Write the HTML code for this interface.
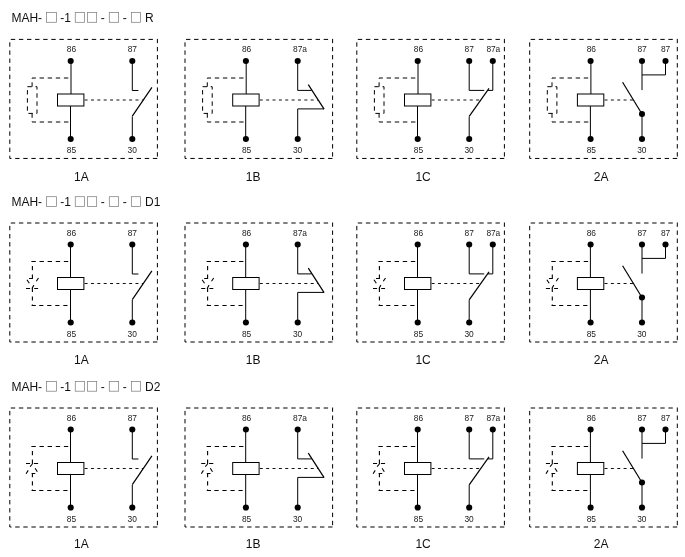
<!DOCTYPE html>
<html><head><meta charset="utf-8"><title>MAH relay wiring diagrams</title>
<style>
html,body{margin:0;padding:0;background:#fff}
svg{display:block;will-change:transform;font-family:"Liberation Sans",sans-serif}
.s,path{fill:none;stroke:#000;stroke-width:1}
.o{stroke:#000;stroke-width:1}
.d{stroke:#000;stroke-width:1}
.d2{stroke:#000;stroke-width:1.1}
.a{stroke:#000;stroke-width:1.2}
.m{stroke:#111;stroke-width:1;stroke-dasharray:3 3.36}
.q{fill:none;stroke:#808080;stroke-width:0.75}
circle{fill:#000}
text{fill:#1a1a1a}
.p{font-size:8.4px;letter-spacing:-0.12px}
.t{font-size:12px;fill:#111}
.n{font-size:12px;fill:#111}
</style></head><body>
<svg width="685" height="557" viewBox="0 0 685 557">
<rect width="685" height="557" fill="#fff"/>
<text class="t" x="11.40" y="21.70">MAH-</text>
<text class="t" x="60.20" y="21.70">-1</text>
<text class="t" x="100.80" y="21.70">-</text>
<text class="t" x="122.80" y="21.70">-</text>
<text class="t" x="145.00" y="21.70">R</text>
<rect class="q" x="46.40" y="12.50" width="10.05" height="9.8"/>
<rect class="q" x="75.26" y="12.50" width="9.3" height="9.8"/>
<rect class="q" x="87.37" y="12.50" width="9.3" height="9.8"/>
<rect class="q" x="109.30" y="12.50" width="9.35" height="9.8"/>
<rect class="q" x="131.35" y="12.50" width="9.25" height="9.8"/>
<path class="o" d="M10.80 39.40h4.4M18.90 39.40h4.4M27.00 39.40h4.4M35.10 39.40h4.4M43.20 39.40h4.4M51.30 39.40h4.4M59.40 39.40h4.4M67.50 39.40h4.4M75.60 39.40h4.4M83.70 39.40h4.4M91.80 39.40h4.4M99.90 39.40h4.4M108.00 39.40h4.4M116.10 39.40h4.4M124.20 39.40h4.4M132.30 39.40h4.4M140.40 39.40h4.4M148.50 39.40h4.4M157.40 38.90V43.20M157.40 46.90V51.30M157.40 55.00V59.40M157.40 63.10V67.50M157.40 71.20V75.60M157.40 79.30V83.70M157.40 87.40V91.80M157.40 95.50V99.90M157.40 103.60V108.00M157.40 111.70V116.10M157.40 119.80V124.20M157.40 127.90V132.30M157.40 136.00V140.40M157.40 144.10V148.50M157.40 152.20V156.60M9.80 42.30v4.4M9.80 50.40v4.4M9.80 58.50v4.4M9.80 66.60v4.4M9.80 74.70v4.4M9.80 82.80v4.4M9.80 90.90v4.4M9.80 99.00v4.4M9.80 107.10v4.4M9.80 115.20v4.4M9.80 123.30v4.4M9.80 131.40v4.4M9.80 139.50v4.4M9.80 147.60v4.4M9.80 155.70V158.45h1.65M15.15 158.45H19.55M23.25 158.45H27.65M31.35 158.45H35.75M39.45 158.45H43.85M47.55 158.45H51.95M55.65 158.45H60.05M63.75 158.45H68.15M71.85 158.45H76.25M79.95 158.45H84.35M88.05 158.45H92.45M96.15 158.45H100.55M104.25 158.45H108.65M112.35 158.45H116.75M120.45 158.45H124.85M128.55 158.45H132.95M136.65 158.45H141.05M144.75 158.45H149.15M152.85 158.45H157.25" />
<circle cx="70.70" cy="61.05" r="3.05"/>
<circle cx="70.70" cy="139.00" r="3.05"/>
<path class="s" d="M71.00 61.00L71.00 94.00"/>
<path class="s" d="M70.50 106.00L70.50 139.00"/>
<rect class="s" x="57.50" y="94.00" width="26.4" height="12"/>
<text class="p" x="66.85" y="52.15">86</text>
<text class="p" x="66.85" y="153.05">85</text>
<path class="d" d="M68.30 78.00H32.10V86.70" stroke-dasharray="4.4 3.7" stroke-dashoffset="0"/>
<path class="d" d="M27.40 86.70H37.00V113.40H27.40Z" stroke-dasharray="4.4 3.7"/>
<path class="d" d="M32.10 113.40V122.00H68.50" stroke-dasharray="4.4 3.7"/>
<circle cx="132.30" cy="61.05" r="3.05"/>
<circle cx="132.30" cy="139.00" r="3.05"/>
<path class="s" d="M132.30 61.00V90.50H138.40" />
<path class="s" d="M132.30 139.00V116.40" />
<path class="a" d="M132.30 116.20L151.90 87.40"/>
<text class="p" x="127.70" y="52.15">87</text>
<text class="p" x="127.60" y="153.05">30</text>
<path class="m" d="M84.60 100.00H143.10" />
<text class="n" x="74.05" y="180.80">1A</text>
<path class="o" d="M186.00 39.40h4.4M194.10 39.40h4.4M202.20 39.40h4.4M210.30 39.40h4.4M218.40 39.40h4.4M226.50 39.40h4.4M234.60 39.40h4.4M242.70 39.40h4.4M250.80 39.40h4.4M258.90 39.40h4.4M267.00 39.40h4.4M275.10 39.40h4.4M283.20 39.40h4.4M291.30 39.40h4.4M299.40 39.40h4.4M307.50 39.40h4.4M315.60 39.40h4.4M323.70 39.40h4.4M332.60 38.90V43.20M332.60 46.90V51.30M332.60 55.00V59.40M332.60 63.10V67.50M332.60 71.20V75.60M332.60 79.30V83.70M332.60 87.40V91.80M332.60 95.50V99.90M332.60 103.60V108.00M332.60 111.70V116.10M332.60 119.80V124.20M332.60 127.90V132.30M332.60 136.00V140.40M332.60 144.10V148.50M332.60 152.20V156.60M185.00 42.30v4.4M185.00 50.40v4.4M185.00 58.50v4.4M185.00 66.60v4.4M185.00 74.70v4.4M185.00 82.80v4.4M185.00 90.90v4.4M185.00 99.00v4.4M185.00 107.10v4.4M185.00 115.20v4.4M185.00 123.30v4.4M185.00 131.40v4.4M185.00 139.50v4.4M185.00 147.60v4.4M185.00 155.70V158.45h1.65M190.35 158.45H194.75M198.45 158.45H202.85M206.55 158.45H210.95M214.65 158.45H219.05M222.75 158.45H227.15M230.85 158.45H235.25M238.95 158.45H243.35M247.05 158.45H251.45M255.15 158.45H259.55M263.25 158.45H267.65M271.35 158.45H275.75M279.45 158.45H283.85M287.55 158.45H291.95M295.65 158.45H300.05M303.75 158.45H308.15M311.85 158.45H316.25M319.95 158.45H324.35M328.05 158.45H332.45" />
<circle cx="245.90" cy="61.05" r="3.05"/>
<circle cx="245.90" cy="139.00" r="3.05"/>
<path class="s" d="M246.20 61.00L246.20 94.00"/>
<path class="s" d="M245.70 106.00L245.70 139.00"/>
<rect class="s" x="232.70" y="94.00" width="26.4" height="12"/>
<text class="p" x="242.05" y="52.15">86</text>
<text class="p" x="242.05" y="153.05">85</text>
<path class="d" d="M243.50 78.00H207.30V86.70" stroke-dasharray="4.4 3.7" stroke-dashoffset="0"/>
<path class="d" d="M202.60 86.70H212.20V113.40H202.60Z" stroke-dasharray="4.4 3.7"/>
<path class="d" d="M207.30 113.40V122.00H243.70" stroke-dasharray="4.4 3.7"/>
<circle cx="297.70" cy="61.05" r="3.05"/>
<circle cx="297.70" cy="139.00" r="3.05"/>
<path class="s" d="M297.70 61.00V90.40H311.60" />
<path class="s" d="M297.70 139.00V108.90H324.00" />
<path class="a" d="M324.10 109.10L308.30 84.60"/>
<text class="p" x="293.10" y="52.15">87a</text>
<text class="p" x="293.00" y="153.05">30</text>
<path class="m" d="M259.80 100.00H318.00" />
<text class="n" x="245.75" y="180.80">1B</text>
<path class="o" d="M357.80 39.40h4.4M365.90 39.40h4.4M374.00 39.40h4.4M382.10 39.40h4.4M390.20 39.40h4.4M398.30 39.40h4.4M406.40 39.40h4.4M414.50 39.40h4.4M422.60 39.40h4.4M430.70 39.40h4.4M438.80 39.40h4.4M446.90 39.40h4.4M455.00 39.40h4.4M463.10 39.40h4.4M471.20 39.40h4.4M479.30 39.40h4.4M487.40 39.40h4.4M495.50 39.40h4.4M504.40 38.90V43.20M504.40 46.90V51.30M504.40 55.00V59.40M504.40 63.10V67.50M504.40 71.20V75.60M504.40 79.30V83.70M504.40 87.40V91.80M504.40 95.50V99.90M504.40 103.60V108.00M504.40 111.70V116.10M504.40 119.80V124.20M504.40 127.90V132.30M504.40 136.00V140.40M504.40 144.10V148.50M504.40 152.20V156.60M356.80 42.30v4.4M356.80 50.40v4.4M356.80 58.50v4.4M356.80 66.60v4.4M356.80 74.70v4.4M356.80 82.80v4.4M356.80 90.90v4.4M356.80 99.00v4.4M356.80 107.10v4.4M356.80 115.20v4.4M356.80 123.30v4.4M356.80 131.40v4.4M356.80 139.50v4.4M356.80 147.60v4.4M356.80 155.70V158.45h1.65M362.15 158.45H366.55M370.25 158.45H374.65M378.35 158.45H382.75M386.45 158.45H390.85M394.55 158.45H398.95M402.65 158.45H407.05M410.75 158.45H415.15M418.85 158.45H423.25M426.95 158.45H431.35M435.05 158.45H439.45M443.15 158.45H447.55M451.25 158.45H455.65M459.35 158.45H463.75M467.45 158.45H471.85M475.55 158.45H479.95M483.65 158.45H488.05M491.75 158.45H496.15M499.85 158.45H504.25" />
<circle cx="417.70" cy="61.05" r="3.05"/>
<circle cx="417.70" cy="139.00" r="3.05"/>
<path class="s" d="M418.00 61.00L418.00 94.00"/>
<path class="s" d="M417.50 106.00L417.50 139.00"/>
<rect class="s" x="404.50" y="94.00" width="26.4" height="12"/>
<text class="p" x="413.85" y="52.15">86</text>
<text class="p" x="413.85" y="153.05">85</text>
<path class="d" d="M415.30 78.00H379.10V86.70" stroke-dasharray="4.4 3.7" stroke-dashoffset="0"/>
<path class="d" d="M374.40 86.70H384.00V113.40H374.40Z" stroke-dasharray="4.4 3.7"/>
<path class="d" d="M379.10 113.40V122.00H415.50" stroke-dasharray="4.4 3.7"/>
<circle cx="469.20" cy="61.05" r="3.05"/>
<circle cx="492.80" cy="61.05" r="3.05"/>
<circle cx="469.20" cy="139.00" r="3.05"/>
<path class="s" d="M469.20 61.00V90.40H484.20" />
<path class="s" d="M492.80 61.00V90.40H487.80" />
<path class="s" d="M469.20 139.00V116.60" />
<path class="a" d="M469.20 116.40L489.00 88.40"/>
<text class="p" x="464.60" y="52.15">87</text>
<text class="p" x="486.50" y="52.15">87a</text>
<text class="p" x="464.50" y="153.05">30</text>
<path class="m" d="M431.60 100.00H479.80" />
<text class="n" x="415.40" y="180.80">1C</text>
<path class="o" d="M530.70 39.40h4.4M538.80 39.40h4.4M546.90 39.40h4.4M555.00 39.40h4.4M563.10 39.40h4.4M571.20 39.40h4.4M579.30 39.40h4.4M587.40 39.40h4.4M595.50 39.40h4.4M603.60 39.40h4.4M611.70 39.40h4.4M619.80 39.40h4.4M627.90 39.40h4.4M636.00 39.40h4.4M644.10 39.40h4.4M652.20 39.40h4.4M660.30 39.40h4.4M668.40 39.40h4.4M677.30 38.90V43.20M677.30 46.90V51.30M677.30 55.00V59.40M677.30 63.10V67.50M677.30 71.20V75.60M677.30 79.30V83.70M677.30 87.40V91.80M677.30 95.50V99.90M677.30 103.60V108.00M677.30 111.70V116.10M677.30 119.80V124.20M677.30 127.90V132.30M677.30 136.00V140.40M677.30 144.10V148.50M677.30 152.20V156.60M529.70 42.30v4.4M529.70 50.40v4.4M529.70 58.50v4.4M529.70 66.60v4.4M529.70 74.70v4.4M529.70 82.80v4.4M529.70 90.90v4.4M529.70 99.00v4.4M529.70 107.10v4.4M529.70 115.20v4.4M529.70 123.30v4.4M529.70 131.40v4.4M529.70 139.50v4.4M529.70 147.60v4.4M529.70 155.70V158.45h1.65M535.05 158.45H539.45M543.15 158.45H547.55M551.25 158.45H555.65M559.35 158.45H563.75M567.45 158.45H571.85M575.55 158.45H579.95M583.65 158.45H588.05M591.75 158.45H596.15M599.85 158.45H604.25M607.95 158.45H612.35M616.05 158.45H620.45M624.15 158.45H628.55M632.25 158.45H636.65M640.35 158.45H644.75M648.45 158.45H652.85M656.55 158.45H660.95M664.65 158.45H669.05M672.75 158.45H677.15" />
<circle cx="590.60" cy="61.05" r="3.05"/>
<circle cx="590.60" cy="139.00" r="3.05"/>
<path class="s" d="M590.90 61.00L590.90 94.00"/>
<path class="s" d="M590.40 106.00L590.40 139.00"/>
<rect class="s" x="577.40" y="94.00" width="26.4" height="12"/>
<text class="p" x="586.75" y="52.15">86</text>
<text class="p" x="586.75" y="153.05">85</text>
<path class="d" d="M588.20 78.00H552.00V86.70" stroke-dasharray="4.4 3.7" stroke-dashoffset="0"/>
<path class="d" d="M547.30 86.70H556.90V113.40H547.30Z" stroke-dasharray="4.4 3.7"/>
<path class="d" d="M552.00 113.40V122.00H588.40" stroke-dasharray="4.4 3.7"/>
<circle cx="642.00" cy="61.05" r="3.05"/>
<circle cx="665.50" cy="61.05" r="3.05"/>
<circle cx="642.00" cy="139.00" r="3.05"/>
<circle cx="642.00" cy="114.00" r="3.05"/>
<path class="s" d="M642.00 61.00V90.10M642.00 74.90H665.50V61.00" />
<path class="s" d="M642.00 139.00V114.00" />
<path class="a" d="M642.00 114.00L622.60 82.20"/>
<text class="p" x="637.40" y="52.15">87</text>
<text class="p" x="660.90" y="52.15">87</text>
<text class="p" x="637.30" y="153.05">30</text>
<path class="m" d="M604.50 100.00H633.20" />
<text class="n" x="593.80" y="180.80">2A</text>
<text class="t" x="11.40" y="205.90">MAH-</text>
<text class="t" x="60.20" y="205.90">-1</text>
<text class="t" x="100.80" y="205.90">-</text>
<text class="t" x="122.80" y="205.90">-</text>
<text class="t" x="145.00" y="205.90">D1</text>
<rect class="q" x="46.40" y="196.70" width="10.05" height="9.8"/>
<rect class="q" x="75.26" y="196.70" width="9.3" height="9.8"/>
<rect class="q" x="87.37" y="196.70" width="9.3" height="9.8"/>
<rect class="q" x="109.30" y="196.70" width="9.35" height="9.8"/>
<rect class="q" x="131.35" y="196.70" width="9.25" height="9.8"/>
<path class="o" d="M10.80 223.00h4.4M18.90 223.00h4.4M27.00 223.00h4.4M35.10 223.00h4.4M43.20 223.00h4.4M51.30 223.00h4.4M59.40 223.00h4.4M67.50 223.00h4.4M75.60 223.00h4.4M83.70 223.00h4.4M91.80 223.00h4.4M99.90 223.00h4.4M108.00 223.00h4.4M116.10 223.00h4.4M124.20 223.00h4.4M132.30 223.00h4.4M140.40 223.00h4.4M148.50 223.00h4.4M157.40 222.50V226.80M157.40 230.50V234.90M157.40 238.60V243.00M157.40 246.70V251.10M157.40 254.80V259.20M157.40 262.90V267.30M157.40 271.00V275.40M157.40 279.10V283.50M157.40 287.20V291.60M157.40 295.30V299.70M157.40 303.40V307.80M157.40 311.50V315.90M157.40 319.60V324.00M157.40 327.70V332.10M157.40 335.80V340.20M9.80 225.90v4.4M9.80 234.00v4.4M9.80 242.10v4.4M9.80 250.20v4.4M9.80 258.30v4.4M9.80 266.40v4.4M9.80 274.50v4.4M9.80 282.60v4.4M9.80 290.70v4.4M9.80 298.80v4.4M9.80 306.90v4.4M9.80 315.00v4.4M9.80 323.10v4.4M9.80 331.20v4.4M9.80 339.30V342.00h1.70M15.20 342.00H19.60M23.30 342.00H27.70M31.40 342.00H35.80M39.50 342.00H43.90M47.60 342.00H52.00M55.70 342.00H60.10M63.80 342.00H68.20M71.90 342.00H76.30M80.00 342.00H84.40M88.10 342.00H92.50M96.20 342.00H100.60M104.30 342.00H108.70M112.40 342.00H116.80M120.50 342.00H124.90M128.60 342.00H133.00M136.70 342.00H141.10M144.80 342.00H149.20M152.90 342.00H157.30" />
<circle cx="70.70" cy="244.55" r="3.05"/>
<circle cx="70.70" cy="322.50" r="3.05"/>
<path class="s" d="M70.50 244.50L70.50 277.50"/>
<path class="s" d="M70.50 289.50L70.50 322.50"/>
<rect class="s" x="57.50" y="277.50" width="26.4" height="12"/>
<text class="p" x="66.85" y="235.95">86</text>
<text class="p" x="66.85" y="336.85">85</text>
<path class="d2" d="M31.40 261.50L35.80 261.50M39.50 261.50L43.90 261.50M47.60 261.50L52.00 261.50M55.75 261.50L60.15 261.50M63.85 261.50L68.25 261.50M32.40 261.00L32.40 261.70M32.40 266.00L32.40 270.20M32.40 274.40L32.40 278.90M29.00 278.50L32.60 278.50M26.95 279.70L29.30 283.20M38.50 278.00L36.30 281.30M33.90 285.10L31.90 288.50M26.00 288.50L30.10 288.50M34.20 288.50L38.10 288.50M32.40 287.30L32.40 292.00M32.40 296.40L32.40 300.50M32.40 304.60L32.40 306.00M31.60 305.50L35.80 305.50M39.20 305.50L43.40 305.50M47.20 305.50L51.40 305.50M55.25 305.50L59.45 305.50M63.30 305.50L67.50 305.50" />
<circle cx="132.30" cy="244.55" r="3.05"/>
<circle cx="132.30" cy="322.50" r="3.05"/>
<path class="s" d="M132.30 244.50V274.00H138.40" />
<path class="s" d="M132.30 322.50V299.90" />
<path class="a" d="M132.30 299.70L151.90 270.90"/>
<text class="p" x="127.70" y="235.95">87</text>
<text class="p" x="127.60" y="336.85">30</text>
<path class="m" d="M84.60 283.50H143.10" />
<text class="n" x="74.05" y="364.20">1A</text>
<path class="o" d="M186.00 223.00h4.4M194.10 223.00h4.4M202.20 223.00h4.4M210.30 223.00h4.4M218.40 223.00h4.4M226.50 223.00h4.4M234.60 223.00h4.4M242.70 223.00h4.4M250.80 223.00h4.4M258.90 223.00h4.4M267.00 223.00h4.4M275.10 223.00h4.4M283.20 223.00h4.4M291.30 223.00h4.4M299.40 223.00h4.4M307.50 223.00h4.4M315.60 223.00h4.4M323.70 223.00h4.4M332.60 222.50V226.80M332.60 230.50V234.90M332.60 238.60V243.00M332.60 246.70V251.10M332.60 254.80V259.20M332.60 262.90V267.30M332.60 271.00V275.40M332.60 279.10V283.50M332.60 287.20V291.60M332.60 295.30V299.70M332.60 303.40V307.80M332.60 311.50V315.90M332.60 319.60V324.00M332.60 327.70V332.10M332.60 335.80V340.20M185.00 225.90v4.4M185.00 234.00v4.4M185.00 242.10v4.4M185.00 250.20v4.4M185.00 258.30v4.4M185.00 266.40v4.4M185.00 274.50v4.4M185.00 282.60v4.4M185.00 290.70v4.4M185.00 298.80v4.4M185.00 306.90v4.4M185.00 315.00v4.4M185.00 323.10v4.4M185.00 331.20v4.4M185.00 339.30V342.00h1.70M190.40 342.00H194.80M198.50 342.00H202.90M206.60 342.00H211.00M214.70 342.00H219.10M222.80 342.00H227.20M230.90 342.00H235.30M239.00 342.00H243.40M247.10 342.00H251.50M255.20 342.00H259.60M263.30 342.00H267.70M271.40 342.00H275.80M279.50 342.00H283.90M287.60 342.00H292.00M295.70 342.00H300.10M303.80 342.00H308.20M311.90 342.00H316.30M320.00 342.00H324.40M328.10 342.00H332.50" />
<circle cx="245.90" cy="244.55" r="3.05"/>
<circle cx="245.90" cy="322.50" r="3.05"/>
<path class="s" d="M245.70 244.50L245.70 277.50"/>
<path class="s" d="M245.70 289.50L245.70 322.50"/>
<rect class="s" x="232.70" y="277.50" width="26.4" height="12"/>
<text class="p" x="242.05" y="235.95">86</text>
<text class="p" x="242.05" y="336.85">85</text>
<path class="d2" d="M206.60 261.50L211.00 261.50M214.70 261.50L219.10 261.50M222.80 261.50L227.20 261.50M230.95 261.50L235.35 261.50M239.05 261.50L243.45 261.50M207.60 261.00L207.60 261.70M207.60 266.00L207.60 270.20M207.60 274.40L207.60 278.90M204.20 278.50L207.80 278.50M202.15 279.70L204.50 283.20M213.70 278.00L211.50 281.30M209.10 285.10L207.10 288.50M201.20 288.50L205.30 288.50M209.40 288.50L213.30 288.50M207.60 287.30L207.60 292.00M207.60 296.40L207.60 300.50M207.60 304.60L207.60 306.00M206.80 305.50L211.00 305.50M214.40 305.50L218.60 305.50M222.40 305.50L226.60 305.50M230.45 305.50L234.65 305.50M238.50 305.50L242.70 305.50" />
<circle cx="297.70" cy="244.55" r="3.05"/>
<circle cx="297.70" cy="322.50" r="3.05"/>
<path class="s" d="M297.70 244.50V273.90H311.60" />
<path class="s" d="M297.70 322.50V292.40H324.00" />
<path class="a" d="M324.10 292.60L308.30 268.10"/>
<text class="p" x="293.10" y="235.95">87a</text>
<text class="p" x="293.00" y="336.85">30</text>
<path class="m" d="M259.80 283.50H318.00" />
<text class="n" x="245.75" y="364.20">1B</text>
<path class="o" d="M357.80 223.00h4.4M365.90 223.00h4.4M374.00 223.00h4.4M382.10 223.00h4.4M390.20 223.00h4.4M398.30 223.00h4.4M406.40 223.00h4.4M414.50 223.00h4.4M422.60 223.00h4.4M430.70 223.00h4.4M438.80 223.00h4.4M446.90 223.00h4.4M455.00 223.00h4.4M463.10 223.00h4.4M471.20 223.00h4.4M479.30 223.00h4.4M487.40 223.00h4.4M495.50 223.00h4.4M504.40 222.50V226.80M504.40 230.50V234.90M504.40 238.60V243.00M504.40 246.70V251.10M504.40 254.80V259.20M504.40 262.90V267.30M504.40 271.00V275.40M504.40 279.10V283.50M504.40 287.20V291.60M504.40 295.30V299.70M504.40 303.40V307.80M504.40 311.50V315.90M504.40 319.60V324.00M504.40 327.70V332.10M504.40 335.80V340.20M356.80 225.90v4.4M356.80 234.00v4.4M356.80 242.10v4.4M356.80 250.20v4.4M356.80 258.30v4.4M356.80 266.40v4.4M356.80 274.50v4.4M356.80 282.60v4.4M356.80 290.70v4.4M356.80 298.80v4.4M356.80 306.90v4.4M356.80 315.00v4.4M356.80 323.10v4.4M356.80 331.20v4.4M356.80 339.30V342.00h1.70M362.20 342.00H366.60M370.30 342.00H374.70M378.40 342.00H382.80M386.50 342.00H390.90M394.60 342.00H399.00M402.70 342.00H407.10M410.80 342.00H415.20M418.90 342.00H423.30M427.00 342.00H431.40M435.10 342.00H439.50M443.20 342.00H447.60M451.30 342.00H455.70M459.40 342.00H463.80M467.50 342.00H471.90M475.60 342.00H480.00M483.70 342.00H488.10M491.80 342.00H496.20M499.90 342.00H504.30" />
<circle cx="417.70" cy="244.55" r="3.05"/>
<circle cx="417.70" cy="322.50" r="3.05"/>
<path class="s" d="M417.50 244.50L417.50 277.50"/>
<path class="s" d="M417.50 289.50L417.50 322.50"/>
<rect class="s" x="404.50" y="277.50" width="26.4" height="12"/>
<text class="p" x="413.85" y="235.95">86</text>
<text class="p" x="413.85" y="336.85">85</text>
<path class="d2" d="M378.40 261.50L382.80 261.50M386.50 261.50L390.90 261.50M394.60 261.50L399.00 261.50M402.75 261.50L407.15 261.50M410.85 261.50L415.25 261.50M379.40 261.00L379.40 261.70M379.40 266.00L379.40 270.20M379.40 274.40L379.40 278.90M376.00 278.50L379.60 278.50M373.95 279.70L376.30 283.20M385.50 278.00L383.30 281.30M380.90 285.10L378.90 288.50M373.00 288.50L377.10 288.50M381.20 288.50L385.10 288.50M379.40 287.30L379.40 292.00M379.40 296.40L379.40 300.50M379.40 304.60L379.40 306.00M378.60 305.50L382.80 305.50M386.20 305.50L390.40 305.50M394.20 305.50L398.40 305.50M402.25 305.50L406.45 305.50M410.30 305.50L414.50 305.50" />
<circle cx="469.20" cy="244.55" r="3.05"/>
<circle cx="492.80" cy="244.55" r="3.05"/>
<circle cx="469.20" cy="322.50" r="3.05"/>
<path class="s" d="M469.20 244.50V273.90H484.20" />
<path class="s" d="M492.80 244.50V273.90H487.80" />
<path class="s" d="M469.20 322.50V300.10" />
<path class="a" d="M469.20 299.90L489.00 271.90"/>
<text class="p" x="464.60" y="235.95">87</text>
<text class="p" x="486.50" y="235.95">87a</text>
<text class="p" x="464.50" y="336.85">30</text>
<path class="m" d="M431.60 283.50H479.80" />
<text class="n" x="415.40" y="364.20">1C</text>
<path class="o" d="M530.70 223.00h4.4M538.80 223.00h4.4M546.90 223.00h4.4M555.00 223.00h4.4M563.10 223.00h4.4M571.20 223.00h4.4M579.30 223.00h4.4M587.40 223.00h4.4M595.50 223.00h4.4M603.60 223.00h4.4M611.70 223.00h4.4M619.80 223.00h4.4M627.90 223.00h4.4M636.00 223.00h4.4M644.10 223.00h4.4M652.20 223.00h4.4M660.30 223.00h4.4M668.40 223.00h4.4M677.30 222.50V226.80M677.30 230.50V234.90M677.30 238.60V243.00M677.30 246.70V251.10M677.30 254.80V259.20M677.30 262.90V267.30M677.30 271.00V275.40M677.30 279.10V283.50M677.30 287.20V291.60M677.30 295.30V299.70M677.30 303.40V307.80M677.30 311.50V315.90M677.30 319.60V324.00M677.30 327.70V332.10M677.30 335.80V340.20M529.70 225.90v4.4M529.70 234.00v4.4M529.70 242.10v4.4M529.70 250.20v4.4M529.70 258.30v4.4M529.70 266.40v4.4M529.70 274.50v4.4M529.70 282.60v4.4M529.70 290.70v4.4M529.70 298.80v4.4M529.70 306.90v4.4M529.70 315.00v4.4M529.70 323.10v4.4M529.70 331.20v4.4M529.70 339.30V342.00h1.70M535.10 342.00H539.50M543.20 342.00H547.60M551.30 342.00H555.70M559.40 342.00H563.80M567.50 342.00H571.90M575.60 342.00H580.00M583.70 342.00H588.10M591.80 342.00H596.20M599.90 342.00H604.30M608.00 342.00H612.40M616.10 342.00H620.50M624.20 342.00H628.60M632.30 342.00H636.70M640.40 342.00H644.80M648.50 342.00H652.90M656.60 342.00H661.00M664.70 342.00H669.10M672.80 342.00H677.20" />
<circle cx="590.60" cy="244.55" r="3.05"/>
<circle cx="590.60" cy="322.50" r="3.05"/>
<path class="s" d="M590.40 244.50L590.40 277.50"/>
<path class="s" d="M590.40 289.50L590.40 322.50"/>
<rect class="s" x="577.40" y="277.50" width="26.4" height="12"/>
<text class="p" x="586.75" y="235.95">86</text>
<text class="p" x="586.75" y="336.85">85</text>
<path class="d2" d="M551.30 261.50L555.70 261.50M559.40 261.50L563.80 261.50M567.50 261.50L571.90 261.50M575.65 261.50L580.05 261.50M583.75 261.50L588.15 261.50M552.30 261.00L552.30 261.70M552.30 266.00L552.30 270.20M552.30 274.40L552.30 278.90M548.90 278.50L552.50 278.50M546.85 279.70L549.20 283.20M558.40 278.00L556.20 281.30M553.80 285.10L551.80 288.50M545.90 288.50L550.00 288.50M554.10 288.50L558.00 288.50M552.30 287.30L552.30 292.00M552.30 296.40L552.30 300.50M552.30 304.60L552.30 306.00M551.50 305.50L555.70 305.50M559.10 305.50L563.30 305.50M567.10 305.50L571.30 305.50M575.15 305.50L579.35 305.50M583.20 305.50L587.40 305.50" />
<circle cx="642.00" cy="244.55" r="3.05"/>
<circle cx="665.50" cy="244.55" r="3.05"/>
<circle cx="642.00" cy="322.50" r="3.05"/>
<circle cx="642.00" cy="297.50" r="3.05"/>
<path class="s" d="M642.00 244.50V273.60M642.00 258.40H665.50V244.50" />
<path class="s" d="M642.00 322.50V297.50" />
<path class="a" d="M642.00 297.50L622.60 265.70"/>
<text class="p" x="637.40" y="235.95">87</text>
<text class="p" x="660.90" y="235.95">87</text>
<text class="p" x="637.30" y="336.85">30</text>
<path class="m" d="M604.50 283.50H633.20" />
<text class="n" x="593.80" y="364.20">2A</text>
<text class="t" x="11.40" y="390.60">MAH-</text>
<text class="t" x="60.20" y="390.60">-1</text>
<text class="t" x="100.80" y="390.60">-</text>
<text class="t" x="122.80" y="390.60">-</text>
<text class="t" x="145.00" y="390.60">D2</text>
<rect class="q" x="46.40" y="381.40" width="10.05" height="9.8"/>
<rect class="q" x="75.26" y="381.40" width="9.3" height="9.8"/>
<rect class="q" x="87.37" y="381.40" width="9.3" height="9.8"/>
<rect class="q" x="109.30" y="381.40" width="9.35" height="9.8"/>
<rect class="q" x="131.35" y="381.40" width="9.25" height="9.8"/>
<path class="o" d="M10.80 408.00h4.4M18.90 408.00h4.4M27.00 408.00h4.4M35.10 408.00h4.4M43.20 408.00h4.4M51.30 408.00h4.4M59.40 408.00h4.4M67.50 408.00h4.4M75.60 408.00h4.4M83.70 408.00h4.4M91.80 408.00h4.4M99.90 408.00h4.4M108.00 408.00h4.4M116.10 408.00h4.4M124.20 408.00h4.4M132.30 408.00h4.4M140.40 408.00h4.4M148.50 408.00h4.4M157.40 407.50V411.80M157.40 415.50V419.90M157.40 423.60V428.00M157.40 431.70V436.10M157.40 439.80V444.20M157.40 447.90V452.30M157.40 456.00V460.40M157.40 464.10V468.50M157.40 472.20V476.60M157.40 480.30V484.70M157.40 488.40V492.80M157.40 496.50V500.90M157.40 504.60V509.00M157.40 512.70V517.10M157.40 520.80V525.20M9.80 410.90v4.4M9.80 419.00v4.4M9.80 427.10v4.4M9.80 435.20v4.4M9.80 443.30v4.4M9.80 451.40v4.4M9.80 459.50v4.4M9.80 467.60v4.4M9.80 475.70v4.4M9.80 483.80v4.4M9.80 491.90v4.4M9.80 500.00v4.4M9.80 508.10v4.4M9.80 516.20v4.4M9.80 524.30V527.00h1.70M15.20 527.00H19.60M23.30 527.00H27.70M31.40 527.00H35.80M39.50 527.00H43.90M47.60 527.00H52.00M55.70 527.00H60.10M63.80 527.00H68.20M71.90 527.00H76.30M80.00 527.00H84.40M88.10 527.00H92.50M96.20 527.00H100.60M104.30 527.00H108.70M112.40 527.00H116.80M120.50 527.00H124.90M128.60 527.00H133.00M136.70 527.00H141.10M144.80 527.00H149.20M152.90 527.00H157.30" />
<circle cx="70.70" cy="429.55" r="3.05"/>
<circle cx="70.70" cy="507.50" r="3.05"/>
<path class="s" d="M70.50 429.50L70.50 462.50"/>
<path class="s" d="M70.50 474.50L70.50 507.50"/>
<rect class="s" x="57.50" y="462.50" width="26.4" height="12"/>
<text class="p" x="66.85" y="420.95">86</text>
<text class="p" x="66.85" y="521.85">85</text>
<path class="d2" d="M31.40 446.50L35.80 446.50M39.50 446.50L43.90 446.50M47.60 446.50L52.00 446.50M55.75 446.50L60.15 446.50M63.85 446.50L68.25 446.50M32.40 446.00L32.40 446.70M32.40 451.00L32.40 455.30M32.40 459.40L32.40 463.90M26.00 463.50L30.10 463.50M33.90 463.50L38.10 463.50M32.40 464.00L30.10 466.70M28.20 470.40L26.10 473.70M35.10 468.20L37.30 471.70M31.60 473.50L35.25 473.50M32.40 473.50L32.40 477.20M32.40 481.30L32.40 485.40M32.40 489.40L32.40 491.00M31.60 490.50L35.80 490.50M39.20 490.50L43.40 490.50M47.20 490.50L51.40 490.50M55.25 490.50L59.45 490.50M63.30 490.50L67.50 490.50" />
<circle cx="132.30" cy="429.55" r="3.05"/>
<circle cx="132.30" cy="507.50" r="3.05"/>
<path class="s" d="M132.30 429.50V459.00H138.40" />
<path class="s" d="M132.30 507.50V484.90" />
<path class="a" d="M132.30 484.70L151.90 455.90"/>
<text class="p" x="127.70" y="420.95">87</text>
<text class="p" x="127.60" y="521.85">30</text>
<path class="m" d="M84.60 468.50H143.10" />
<text class="n" x="74.05" y="548.20">1A</text>
<path class="o" d="M186.00 408.00h4.4M194.10 408.00h4.4M202.20 408.00h4.4M210.30 408.00h4.4M218.40 408.00h4.4M226.50 408.00h4.4M234.60 408.00h4.4M242.70 408.00h4.4M250.80 408.00h4.4M258.90 408.00h4.4M267.00 408.00h4.4M275.10 408.00h4.4M283.20 408.00h4.4M291.30 408.00h4.4M299.40 408.00h4.4M307.50 408.00h4.4M315.60 408.00h4.4M323.70 408.00h4.4M332.60 407.50V411.80M332.60 415.50V419.90M332.60 423.60V428.00M332.60 431.70V436.10M332.60 439.80V444.20M332.60 447.90V452.30M332.60 456.00V460.40M332.60 464.10V468.50M332.60 472.20V476.60M332.60 480.30V484.70M332.60 488.40V492.80M332.60 496.50V500.90M332.60 504.60V509.00M332.60 512.70V517.10M332.60 520.80V525.20M185.00 410.90v4.4M185.00 419.00v4.4M185.00 427.10v4.4M185.00 435.20v4.4M185.00 443.30v4.4M185.00 451.40v4.4M185.00 459.50v4.4M185.00 467.60v4.4M185.00 475.70v4.4M185.00 483.80v4.4M185.00 491.90v4.4M185.00 500.00v4.4M185.00 508.10v4.4M185.00 516.20v4.4M185.00 524.30V527.00h1.70M190.40 527.00H194.80M198.50 527.00H202.90M206.60 527.00H211.00M214.70 527.00H219.10M222.80 527.00H227.20M230.90 527.00H235.30M239.00 527.00H243.40M247.10 527.00H251.50M255.20 527.00H259.60M263.30 527.00H267.70M271.40 527.00H275.80M279.50 527.00H283.90M287.60 527.00H292.00M295.70 527.00H300.10M303.80 527.00H308.20M311.90 527.00H316.30M320.00 527.00H324.40M328.10 527.00H332.50" />
<circle cx="245.90" cy="429.55" r="3.05"/>
<circle cx="245.90" cy="507.50" r="3.05"/>
<path class="s" d="M245.70 429.50L245.70 462.50"/>
<path class="s" d="M245.70 474.50L245.70 507.50"/>
<rect class="s" x="232.70" y="462.50" width="26.4" height="12"/>
<text class="p" x="242.05" y="420.95">86</text>
<text class="p" x="242.05" y="521.85">85</text>
<path class="d2" d="M206.60 446.50L211.00 446.50M214.70 446.50L219.10 446.50M222.80 446.50L227.20 446.50M230.95 446.50L235.35 446.50M239.05 446.50L243.45 446.50M207.60 446.00L207.60 446.70M207.60 451.00L207.60 455.30M207.60 459.40L207.60 463.90M201.20 463.50L205.30 463.50M209.10 463.50L213.30 463.50M207.60 464.00L205.30 466.70M203.40 470.40L201.30 473.70M210.30 468.20L212.50 471.70M206.80 473.50L210.45 473.50M207.60 473.50L207.60 477.20M207.60 481.30L207.60 485.40M207.60 489.40L207.60 491.00M206.80 490.50L211.00 490.50M214.40 490.50L218.60 490.50M222.40 490.50L226.60 490.50M230.45 490.50L234.65 490.50M238.50 490.50L242.70 490.50" />
<circle cx="297.70" cy="429.55" r="3.05"/>
<circle cx="297.70" cy="507.50" r="3.05"/>
<path class="s" d="M297.70 429.50V458.90H311.60" />
<path class="s" d="M297.70 507.50V477.40H324.00" />
<path class="a" d="M324.10 477.60L308.30 453.10"/>
<text class="p" x="293.10" y="420.95">87a</text>
<text class="p" x="293.00" y="521.85">30</text>
<path class="m" d="M259.80 468.50H318.00" />
<text class="n" x="245.75" y="548.20">1B</text>
<path class="o" d="M357.80 408.00h4.4M365.90 408.00h4.4M374.00 408.00h4.4M382.10 408.00h4.4M390.20 408.00h4.4M398.30 408.00h4.4M406.40 408.00h4.4M414.50 408.00h4.4M422.60 408.00h4.4M430.70 408.00h4.4M438.80 408.00h4.4M446.90 408.00h4.4M455.00 408.00h4.4M463.10 408.00h4.4M471.20 408.00h4.4M479.30 408.00h4.4M487.40 408.00h4.4M495.50 408.00h4.4M504.40 407.50V411.80M504.40 415.50V419.90M504.40 423.60V428.00M504.40 431.70V436.10M504.40 439.80V444.20M504.40 447.90V452.30M504.40 456.00V460.40M504.40 464.10V468.50M504.40 472.20V476.60M504.40 480.30V484.70M504.40 488.40V492.80M504.40 496.50V500.90M504.40 504.60V509.00M504.40 512.70V517.10M504.40 520.80V525.20M356.80 410.90v4.4M356.80 419.00v4.4M356.80 427.10v4.4M356.80 435.20v4.4M356.80 443.30v4.4M356.80 451.40v4.4M356.80 459.50v4.4M356.80 467.60v4.4M356.80 475.70v4.4M356.80 483.80v4.4M356.80 491.90v4.4M356.80 500.00v4.4M356.80 508.10v4.4M356.80 516.20v4.4M356.80 524.30V527.00h1.70M362.20 527.00H366.60M370.30 527.00H374.70M378.40 527.00H382.80M386.50 527.00H390.90M394.60 527.00H399.00M402.70 527.00H407.10M410.80 527.00H415.20M418.90 527.00H423.30M427.00 527.00H431.40M435.10 527.00H439.50M443.20 527.00H447.60M451.30 527.00H455.70M459.40 527.00H463.80M467.50 527.00H471.90M475.60 527.00H480.00M483.70 527.00H488.10M491.80 527.00H496.20M499.90 527.00H504.30" />
<circle cx="417.70" cy="429.55" r="3.05"/>
<circle cx="417.70" cy="507.50" r="3.05"/>
<path class="s" d="M417.50 429.50L417.50 462.50"/>
<path class="s" d="M417.50 474.50L417.50 507.50"/>
<rect class="s" x="404.50" y="462.50" width="26.4" height="12"/>
<text class="p" x="413.85" y="420.95">86</text>
<text class="p" x="413.85" y="521.85">85</text>
<path class="d2" d="M378.40 446.50L382.80 446.50M386.50 446.50L390.90 446.50M394.60 446.50L399.00 446.50M402.75 446.50L407.15 446.50M410.85 446.50L415.25 446.50M379.40 446.00L379.40 446.70M379.40 451.00L379.40 455.30M379.40 459.40L379.40 463.90M373.00 463.50L377.10 463.50M380.90 463.50L385.10 463.50M379.40 464.00L377.10 466.70M375.20 470.40L373.10 473.70M382.10 468.20L384.30 471.70M378.60 473.50L382.25 473.50M379.40 473.50L379.40 477.20M379.40 481.30L379.40 485.40M379.40 489.40L379.40 491.00M378.60 490.50L382.80 490.50M386.20 490.50L390.40 490.50M394.20 490.50L398.40 490.50M402.25 490.50L406.45 490.50M410.30 490.50L414.50 490.50" />
<circle cx="469.20" cy="429.55" r="3.05"/>
<circle cx="492.80" cy="429.55" r="3.05"/>
<circle cx="469.20" cy="507.50" r="3.05"/>
<path class="s" d="M469.20 429.50V458.90H484.20" />
<path class="s" d="M492.80 429.50V458.90H487.80" />
<path class="s" d="M469.20 507.50V485.10" />
<path class="a" d="M469.20 484.90L489.00 456.90"/>
<text class="p" x="464.60" y="420.95">87</text>
<text class="p" x="486.50" y="420.95">87a</text>
<text class="p" x="464.50" y="521.85">30</text>
<path class="m" d="M431.60 468.50H479.80" />
<text class="n" x="415.40" y="548.20">1C</text>
<path class="o" d="M530.70 408.00h4.4M538.80 408.00h4.4M546.90 408.00h4.4M555.00 408.00h4.4M563.10 408.00h4.4M571.20 408.00h4.4M579.30 408.00h4.4M587.40 408.00h4.4M595.50 408.00h4.4M603.60 408.00h4.4M611.70 408.00h4.4M619.80 408.00h4.4M627.90 408.00h4.4M636.00 408.00h4.4M644.10 408.00h4.4M652.20 408.00h4.4M660.30 408.00h4.4M668.40 408.00h4.4M677.30 407.50V411.80M677.30 415.50V419.90M677.30 423.60V428.00M677.30 431.70V436.10M677.30 439.80V444.20M677.30 447.90V452.30M677.30 456.00V460.40M677.30 464.10V468.50M677.30 472.20V476.60M677.30 480.30V484.70M677.30 488.40V492.80M677.30 496.50V500.90M677.30 504.60V509.00M677.30 512.70V517.10M677.30 520.80V525.20M529.70 410.90v4.4M529.70 419.00v4.4M529.70 427.10v4.4M529.70 435.20v4.4M529.70 443.30v4.4M529.70 451.40v4.4M529.70 459.50v4.4M529.70 467.60v4.4M529.70 475.70v4.4M529.70 483.80v4.4M529.70 491.90v4.4M529.70 500.00v4.4M529.70 508.10v4.4M529.70 516.20v4.4M529.70 524.30V527.00h1.70M535.10 527.00H539.50M543.20 527.00H547.60M551.30 527.00H555.70M559.40 527.00H563.80M567.50 527.00H571.90M575.60 527.00H580.00M583.70 527.00H588.10M591.80 527.00H596.20M599.90 527.00H604.30M608.00 527.00H612.40M616.10 527.00H620.50M624.20 527.00H628.60M632.30 527.00H636.70M640.40 527.00H644.80M648.50 527.00H652.90M656.60 527.00H661.00M664.70 527.00H669.10M672.80 527.00H677.20" />
<circle cx="590.60" cy="429.55" r="3.05"/>
<circle cx="590.60" cy="507.50" r="3.05"/>
<path class="s" d="M590.40 429.50L590.40 462.50"/>
<path class="s" d="M590.40 474.50L590.40 507.50"/>
<rect class="s" x="577.40" y="462.50" width="26.4" height="12"/>
<text class="p" x="586.75" y="420.95">86</text>
<text class="p" x="586.75" y="521.85">85</text>
<path class="d2" d="M551.30 446.50L555.70 446.50M559.40 446.50L563.80 446.50M567.50 446.50L571.90 446.50M575.65 446.50L580.05 446.50M583.75 446.50L588.15 446.50M552.30 446.00L552.30 446.70M552.30 451.00L552.30 455.30M552.30 459.40L552.30 463.90M545.90 463.50L550.00 463.50M553.80 463.50L558.00 463.50M552.30 464.00L550.00 466.70M548.10 470.40L546.00 473.70M555.00 468.20L557.20 471.70M551.50 473.50L555.15 473.50M552.30 473.50L552.30 477.20M552.30 481.30L552.30 485.40M552.30 489.40L552.30 491.00M551.50 490.50L555.70 490.50M559.10 490.50L563.30 490.50M567.10 490.50L571.30 490.50M575.15 490.50L579.35 490.50M583.20 490.50L587.40 490.50" />
<circle cx="642.00" cy="429.55" r="3.05"/>
<circle cx="665.50" cy="429.55" r="3.05"/>
<circle cx="642.00" cy="507.50" r="3.05"/>
<circle cx="642.00" cy="482.50" r="3.05"/>
<path class="s" d="M642.00 429.50V458.60M642.00 443.40H665.50V429.50" />
<path class="s" d="M642.00 507.50V482.50" />
<path class="a" d="M642.00 482.50L622.60 450.70"/>
<text class="p" x="637.40" y="420.95">87</text>
<text class="p" x="660.90" y="420.95">87</text>
<text class="p" x="637.30" y="521.85">30</text>
<path class="m" d="M604.50 468.50H633.20" />
<text class="n" x="593.80" y="548.20">2A</text>
</svg>
</body></html>
